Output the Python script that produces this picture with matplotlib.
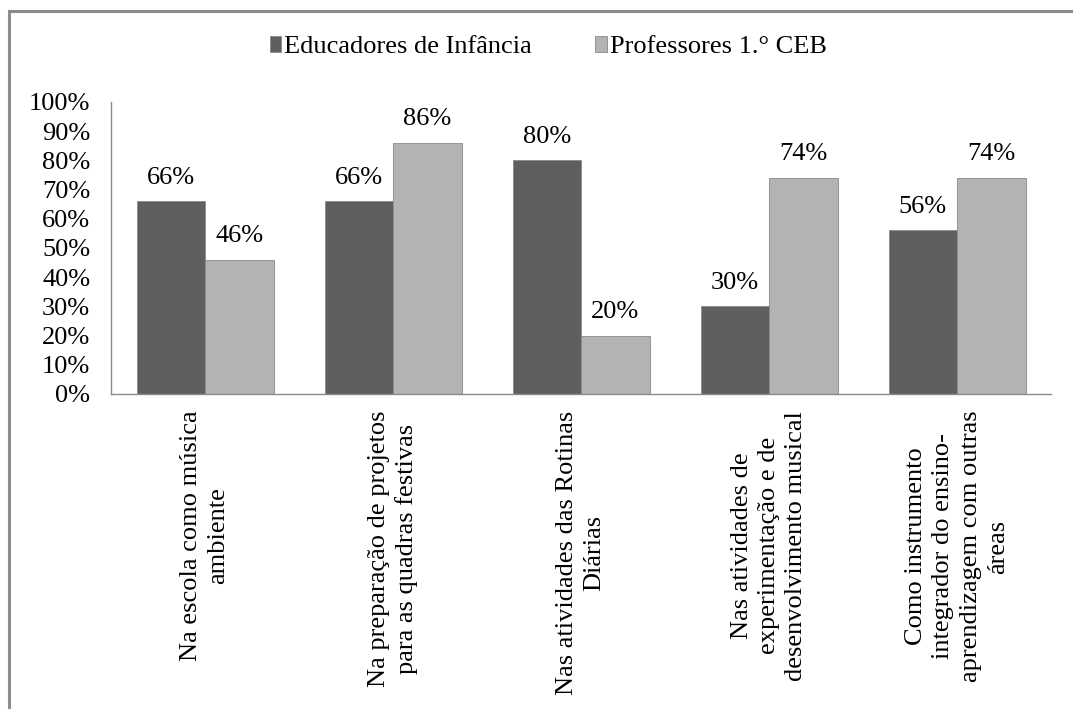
import matplotlib.pyplot as plt
import numpy as np
from matplotlib.patches import Rectangle

categories = [
    "Na escola como música\nambiente",
    "Na preparação de projetos\npara as quadras festivas",
    "Nas atividades das Rotinas\nDiárias",
    "Nas atividades de\nexperimentação e de\ndesenvolvimento musical",
    "Como instrumento\nintegrador do ensino-\naprendizagem com outras\náreas",
]
educadores = [66, 66, 80, 30, 56]
professores = [46, 86, 20, 74, 74]
series_names = ["Educadores de Infância", "Professores 1.° CEB"]

plt.rcParams["font.family"] = ["Liberation Serif", "DejaVu Serif"]
plt.rcParams["font.size"] = 19

fig = plt.figure(figsize=(10.73, 7.09), dpi=100)
ax = fig.add_axes([111 / 1073, 1 - 394 / 709, 940 / 1073, 292 / 709])

x = np.arange(len(categories))
bar_w = 137 / 188 / 2
dark, light = "#5f5f5f", "#b3b3b3"
b1 = ax.bar(x - bar_w / 2, educadores, bar_w, color=dark, edgecolor="#8a8a8a",
            linewidth=0.6, label=series_names[0])
b2 = ax.bar(x + bar_w / 2, professores, bar_w, color=light, edgecolor="#8a8a8a",
            linewidth=0.6, label=series_names[1])

for bars, vals in ((b1, educadores), (b2, professores)):
    for rect, v in zip(bars, vals):
        ax.annotate(f"{v}%", (rect.get_x() + rect.get_width() / 2, v),
                    xytext=(0, 9), textcoords="offset points",
                    ha="center", va="bottom")

ax.set_xlim(-0.5, len(categories) - 0.5)
ax.set_ylim(0, 100)
ax.set_yticks(range(0, 101, 10))
ax.set_yticklabels([f"{t}%" for t in range(0, 101, 10)])
ax.set_xticks(x)
ax.set_xticklabels(categories, rotation=90, ha="center", va="top",
                   multialignment="center", linespacing=1.3)
ax.tick_params(axis="both", length=0)
ax.tick_params(axis="y", pad=15)
ax.tick_params(axis="x", pad=12)
for side in ("top", "right"):
    ax.spines[side].set_visible(False)
for side in ("left", "bottom"):
    ax.spines[side].set_color("#8a8a8a")
    ax.spines[side].set_linewidth(1)

fig.legend(handles=[b1, b2], labels=series_names, loc="center",
           bbox_to_anchor=(548 / 1073, 1 - 47 / 709), ncol=2, frameon=False,
           handlelength=0.45, handleheight=0.6, handletextpad=0.1,
           columnspacing=2.4)

# outer chart frame
fig.patches.append(Rectangle((9 / 1073, -0.1), 1.2, 1.1 - 11 / 709,
                             transform=fig.transFigure, fill=False,
                             edgecolor="#8c8c8c", linewidth=2.2))

fig.savefig("out.png", dpi=100)
